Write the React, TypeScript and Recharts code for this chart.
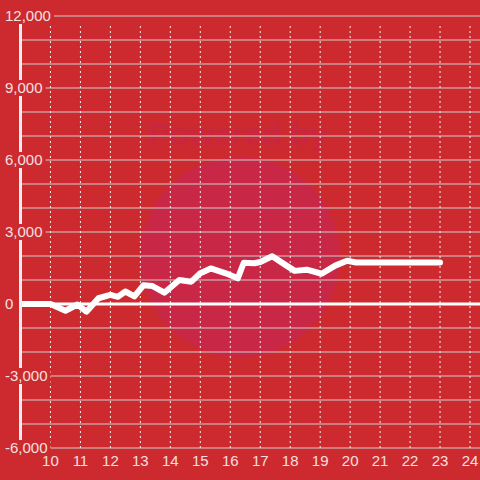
import { LineChart, Line, XAxis, YAxis, CartesianGrid, ReferenceLine } from "recharts";

const hours = [9, 10, 10.5, 10.9, 11.2, 11.6, 12, 12.25, 12.5, 12.8, 13.1, 13.4, 13.8, 14.3, 14.7, 15, 15.35, 15.85, 16.25, 16.45, 16.8, 17, 17.4, 17.85, 18.15, 18.55, 19.05, 19.5, 19.9, 20.2, 23];
const profit = [0, 0, -280, -20, -320, 240, 380, 300, 520, 320, 780, 750, 470, 1000, 930, 1280, 1480, 1280, 1070, 1720, 1700, 1750, 1990, 1620, 1380, 1430, 1260, 1600, 1800, 1730, 1730];

const xTicks = [10, 11, 12, 13, 14, 15, 16, 17, 18, 19, 20, 21, 22, 23, 24];
const yGrid = [-6000, -5000, -4000, -3000, -2000, -1000, 0, 1000, 2000, 3000, 4000, 5000, 6000, 7000, 8000, 9000, 10000, 11000, 12000];
const yLabels = [-6000, -3000, 0, 3000, 6000, 9000, 12000];

const data = hours.map((h, i) => ({ h, v: profit[i] }));

const BG = "#cc2a2e";
const TXT = "#f4e0e0";
const FONT = "'Liberation Sans', Arial, sans-serif";

// rough Arial widths at 15px so the label box hides the lines behind it
function textWidth(s: string) {
  let w = 0;
  for (const c of s) w += c === "," ? 4.2 : c === "-" ? 5 : 8.34;
  return w;
}

function YTick(props: any) {
  const { y, payload } = props;
  if (!yLabels.includes(payload.value)) return <g />;
  const label = payload.value.toLocaleString("en-US");
  const w = textWidth(label);
  return (
    <g>
      <rect x={3} y={y - 8} width={w + 5} height={16} fill={BG} />
      <text x={5} y={y} dy="0.36em" fill={TXT} fontSize={15} fontFamily={FONT}>
        {label}
      </text>
    </g>
  );
}

export default function App() {
  return (
    <div style={{ position: "absolute", left: 0, top: 0, width: 480, height: 480, background: BG, overflow: "hidden" }}>
      <div
        style={{
          position: "absolute",
          left: 140,
          top: 157,
          width: 200,
          height: 200,
          borderRadius: "50%",
          background: "#c92746",
        }}
      />
      <div
        style={{
          position: "absolute",
          left: 148,
          top: 116,
          fontFamily: FONT,
          fontWeight: "bold",
          fontSize: 32,
          color: "#c92640",
          whiteSpace: "nowrap",
        }}
      >
        Powered by
      </div>
      <div style={{ position: "absolute", left: 0, top: 0 }}>
        <LineChart width={480} height={480} data={data} margin={{ top: 16, right: 0, bottom: 0, left: 0 }}>
          <CartesianGrid vertical={false} stroke="#cfcfcf" strokeWidth={1} />
          <XAxis
            dataKey="h"
            type="number"
            domain={[9, 24.3333]}
            ticks={xTicks}
            allowDataOverflow
            axisLine={false}
            tickLine={false}
            tickSize={0}
            tickMargin={7}
            height={32}
            tick={{ fill: TXT, fontSize: 15, fontFamily: FONT }}
          />
          <YAxis
            type="number"
            domain={[-6000, 12000]}
            ticks={yGrid}
            interval={0}
            width={20.5}
            axisLine={{ stroke: "#eeeeee", strokeWidth: 3 }}
            tickLine={false}
            tickSize={0}
            tick={<YTick />}
          />
          {xTicks.map((t) => (
            <ReferenceLine
              key={t}
              segment={[
                { x: t, y: -6000 },
                { x: t, y: 11650 },
              ]}
              stroke="#f2f2f2"
              strokeDasharray="2 3"
              strokeWidth={1}
            />
          ))}
          <ReferenceLine y={0} stroke="#ffffff" strokeWidth={3} />
          <Line
            dataKey="v"
            type="linear"
            stroke="#ffffff"
            strokeWidth={6}
            strokeLinejoin="round"
            strokeLinecap="round"
            dot={false}
            activeDot={false}
            isAnimationActive={false}
          />
        </LineChart>
      </div>
    </div>
  );
}
